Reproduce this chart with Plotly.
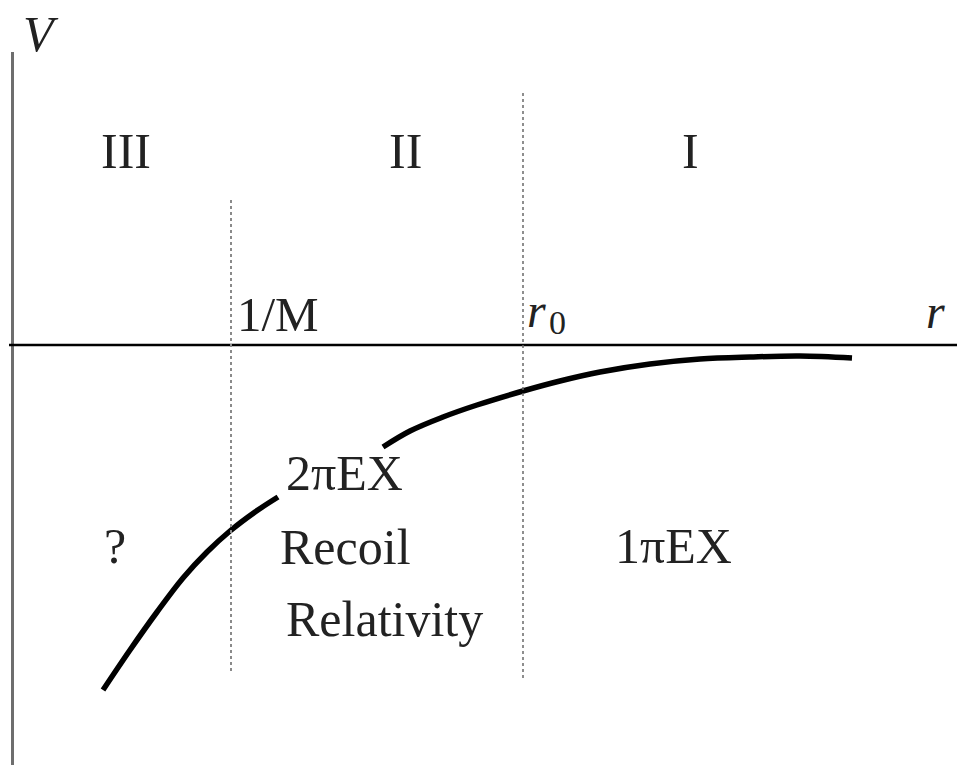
import plotly.graph_objects as go

# Potential V(r) sketch: radial distance r (arbitrary units) vs potential V
r_vals = [0.91, 1.18, 1.45, 1.71, 1.95, 2.18, 2.43, 2.66, None,
          3.71, 3.98, 4.31, 4.65, 5.11, 5.48, 5.88, 6.38, 6.88, 7.38, 7.88, 8.40]
v_vals = [-3.45, -3.05, -2.67, -2.33, -2.07, -1.86, -1.67, -1.52, None,
          -1.02, -0.86, -0.72, -0.60, -0.46, -0.36, -0.27, -0.19, -0.14, -0.12, -0.11, -0.13]

# Region boundaries on the r axis
inv_M = 2.19
r_zero = 5.11

# Region labels and their positions
region_labels = ["III", "II", "I"]
region_r = [1.14, 3.93, 6.78]
region_v = [1.94, 1.94, 1.94]

# Physics labels inside the regions
note_labels = ["?", "2πEX", "Recoil", "Relativity", "1πEX"]
note_r = [1.03, 3.32, 3.33, 3.72, 6.61]
note_v = [-2.01, -1.28, -2.02, -2.74, -2.01]

fig = go.Figure()

fig.add_trace(go.Scatter(
    x=r_vals, y=v_vals, mode="lines",
    line=dict(color="black", width=5.5, shape="spline", smoothing=1.0),
    connectgaps=False, hoverinfo="skip", showlegend=False,
))

shapes = [
    # V axis
    dict(type="line", x0=0.005, x1=0.005, y0=2.93, y1=-4.2,
         line=dict(color="#6e6e6e", width=3)),
    # r axis
    dict(type="line", x0=-0.03, x1=9.5, y0=0, y1=0,
         line=dict(color="black", width=2.5)),
    # 1/M boundary
    dict(type="line", x0=inv_M, x1=inv_M, y0=1.45, y1=-3.27,
         line=dict(color="#8a8a8a", width=2, dash="dot")),
    # r0 boundary
    dict(type="line", x0=r_zero, x1=r_zero, y0=2.52, y1=-3.35,
         line=dict(color="#6a6a6a", width=1.5, dash="dot")),
]

serif = "Liberation Serif"
ink = "#222"
annotations = []
for txt, x, y in zip(region_labels, region_r, region_v):
    annotations.append(dict(x=x, y=y, text=txt, showarrow=False,
                            font=dict(family=serif, size=50, color=ink)))
for txt, x, y in zip(note_labels, note_r, note_v):
    annotations.append(dict(x=x, y=y, text=txt, showarrow=False,
                            xanchor="center",
                            font=dict(family=serif, size=50, color=ink)))

# Axis and tick-point labels
axis_labels = [
    dict(x=0.29, y=3.11, text="<i>V</i>", size=50),
    dict(x=9.23, y=0.34, text="<i>r</i>", size=48),
    dict(x=2.66, y=0.31, text="1/M", size=49),
    dict(x=5.24, y=0.35, text="<i>r</i>", size=48),
    dict(x=5.45, y=0.23, text="0", size=34),
]
for a in axis_labels:
    annotations.append(dict(x=a["x"], y=a["y"], text=a["text"], showarrow=False,
                            font=dict(family=serif, size=a["size"], color=ink)))

fig.update_layout(
    width=957, height=778,
    margin=dict(l=0, r=0, t=0, b=0),
    paper_bgcolor="white", plot_bgcolor="white",
    xaxis=dict(range=[-0.12, 9.45], visible=False, fixedrange=True),
    yaxis=dict(range=[-4.33, 3.45], visible=False, fixedrange=True),
    shapes=shapes, annotations=annotations,
)

fig.write_html("out.html")
